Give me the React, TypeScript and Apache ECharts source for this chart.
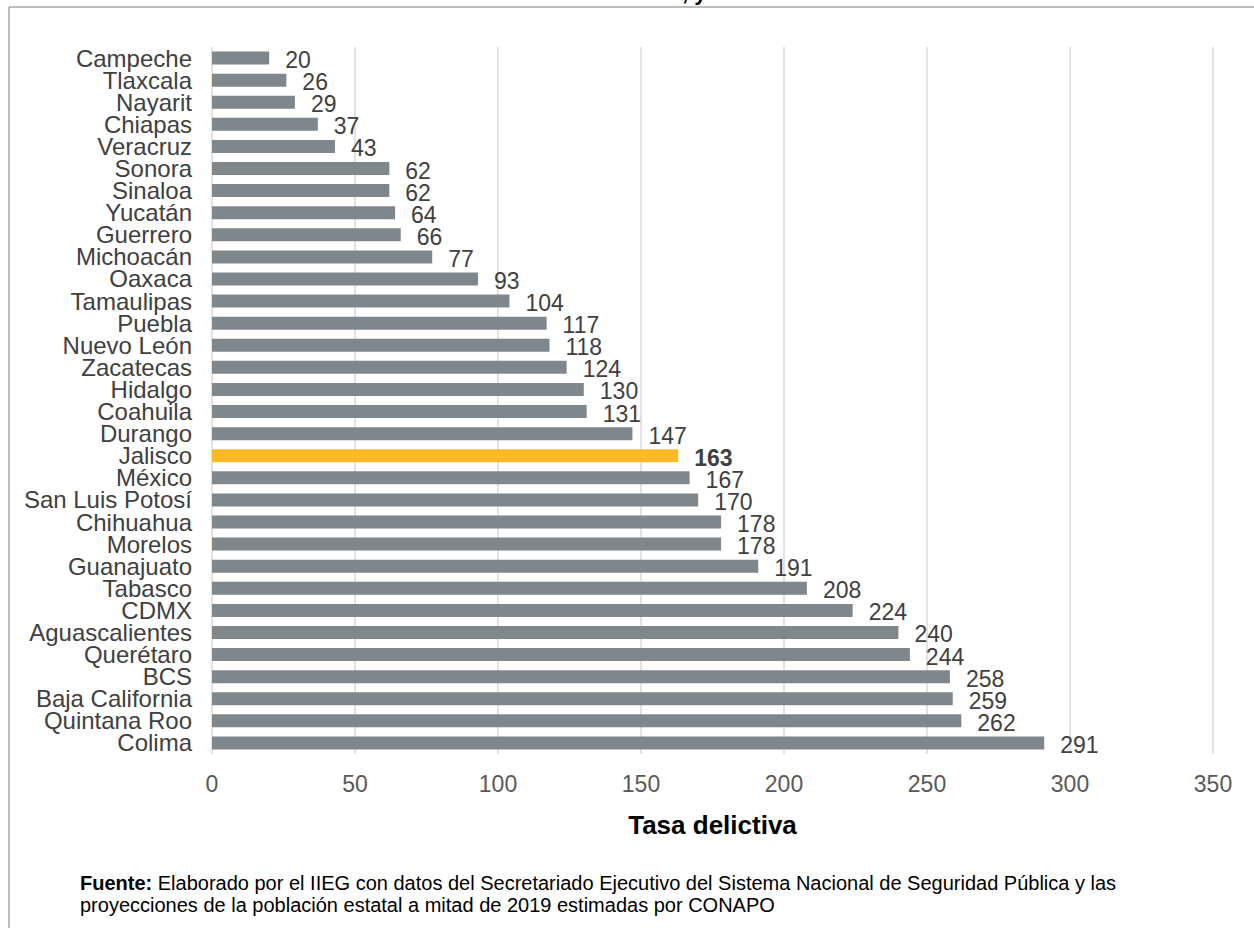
import React, { useEffect, useRef } from "react";
import * as echarts from "echarts";

const categories = [
  "Campeche", "Tlaxcala", "Nayarit", "Chiapas", "Veracruz", "Sonora", "Sinaloa", "Yucatán",
  "Guerrero", "Michoacán", "Oaxaca", "Tamaulipas", "Puebla", "Nuevo León", "Zacatecas", "Hidalgo",
  "Coahuila", "Durango", "Jalisco", "México", "San Luis Potosí", "Chihuahua", "Morelos", "Guanajuato",
  "Tabasco", "CDMX", "Aguascalientes", "Querétaro", "BCS", "Baja California", "Quintana Roo", "Colima",
];
const values = [
  20, 26, 29, 37, 43, 62, 62, 64,
  66, 77, 93, 104, 117, 118, 124, 130,
  131, 147, 163, 167, 170, 178, 178, 191,
  208, 224, 240, 244, 258, 259, 262, 291,
];
const highlight = "Jalisco";
const xTicks = { min: 0, max: 350, interval: 50 };
const axisName = "Tasa delictiva";
const sourceBold = "Fuente:";
const sourceLine1 = " Elaborado por el IIEG con datos del Secretariado Ejecutivo del Sistema Nacional de Seguridad Pública y las";
const sourceLine2 = "proyecciones de la población estatal a mitad de 2019 estimadas por CONAPO";
const titleFragment = ", y";

const FONT = "'Liberation Sans', Arial, sans-serif";

export default function App() {
  const ref = useRef<HTMLDivElement>(null);
  useEffect(() => {
    if (!ref.current) return;
    const chart = echarts.init(ref.current, null, { renderer: "svg" });
    const data = categories.map((c, i) => {
      const isH = c === highlight;
      return {
        value: values[i],
        itemStyle: { color: isH ? "#FBBA25" : "#7F878C" },
        label: isH ? { fontWeight: "bold" } : undefined,
      };
    });
    chart.setOption({
      animation: false,
      backgroundColor: "#ffffff",
      textStyle: { fontFamily: FONT },
      grid: { left: 212, right: 41, top: 47, bottom: 174, containLabel: false },
      xAxis: {
        type: "value",
        min: xTicks.min,
        max: xTicks.max,
        interval: xTicks.interval,
        axisLine: { show: false },
        axisTick: { show: false },
        splitLine: { show: true, lineStyle: { color: "#D9D9D9", width: 1.5 } },
        axisLabel: { fontSize: 23, color: "#595959", margin: 18, fontFamily: FONT },
        name: axisName,
        nameLocation: "middle",
        nameGap: 58,
        nameTextStyle: { fontSize: 26, fontWeight: "bold", color: "#000000", fontFamily: FONT },
      },
      yAxis: {
        type: "category",
        data: categories,
        inverse: true,
        axisLine: { show: false },
        axisTick: { show: false },
        axisLabel: {
          interval: 0,
          fontSize: 24,
          color: "#404040",
          margin: 20,
          fontFamily: FONT,
        },
      },
      series: [
        {
          type: "bar",
          data,
          barWidth: 13,
          label: {
            show: true,
            position: "right",
            distance: 16,
            offset: [0, 2],
            fontSize: 23,
            color: "#404040",
            fontFamily: FONT,
          },
        },
      ],
      graphic: [
        {
          type: "line",
          shape: { x1: 9, y1: 7, x2: 1254, y2: 7 },
          style: { stroke: "#A6A6A6", lineWidth: 1.5 },
        },
        {
          type: "line",
          shape: { x1: 9, y1: 7, x2: 9, y2: 928 },
          style: { stroke: "#A6A6A6", lineWidth: 1.5 },
        },
        {
          type: "text",
          x: 682,
          y: -8,
          style: {
            text: titleFragment,
            font: `bold 22px ${FONT}`,
            fill: "#000000",
            verticalAlign: "middle",
          },
        },
        {
          type: "text",
          x: 80,
          y: 883,
          style: {
            text: `{b|${sourceBold}}{n|${sourceLine1}}`,
            verticalAlign: "middle",
            rich: {
              b: { fontSize: 20, fontWeight: "bold", fill: "#000000", fontFamily: FONT },
              n: { fontSize: 20, fill: "#000000", fontFamily: FONT },
            },
          },
        },
        {
          type: "text",
          x: 80,
          y: 905,
          style: {
            text: sourceLine2,
            font: `20px ${FONT}`,
            fill: "#000000",
            verticalAlign: "middle",
          },
        },
      ],
    });
    return () => chart.dispose();
  }, []);
  return (
    <div
      ref={ref}
      style={{ position: "absolute", left: 0, top: 0, width: 1254, height: 928, background: "#ffffff" }}
    />
  );
}
